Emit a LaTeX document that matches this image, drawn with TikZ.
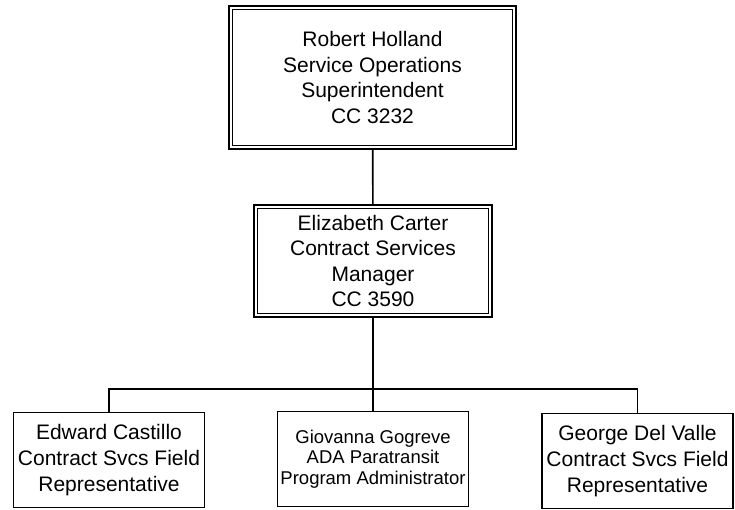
\documentclass[tikz,border=0pt]{standalone}
\usepackage{fontspec}
\setmainfont{Liberation Sans}
\begin{document}
\begin{tikzpicture}[x=1pt, y=-1pt]

% --- Define Styles ---
\tikzset{
    headbox/.style={draw, line width=1.9pt, inner sep=0pt,
        align=center, font=\fontsize{21}{25.5}\selectfont},
    innerline/.style={line width=1pt},
    staffbox/.style={draw, line width=1.5pt, inner sep=0pt, minimum width=191pt,
        minimum height=95pt, align=center},
    link/.style={line width=1.6pt}
}

\useasboundingbox (0,0) rectangle (735,509);

% ================= 1. SUPERINTENDENT =================
\node[headbox, minimum width=287pt, minimum height=143pt] (holland) at (372.5,77.5)
    {Robert Holland\\Service Operations\\Superintendent\\CC 3232};

% ================= 2. MANAGER =================
\node[headbox, minimum width=238pt, minimum height=112pt] (carter) at (373,261)
    {Elizabeth Carter\\Contract Services\\Manager\\CC 3590};

% inner frame of the double borders
\foreach \head in {holland, carter}
    \draw[innerline] ([shift={(4,4)}]\head.north west) rectangle ([shift={(-4,-4)}]\head.south east);

% ================= 3. STAFF =================
\node[staffbox, font=\fontsize{21}{26}\selectfont] (castillo) at (109,460)
    {Edward Castillo\\Contract Svcs Field\\Representative};
\node[staffbox, font=\fontsize{18.5}{20.5}\selectfont] (gogreve) at (373,459)
    {Giovanna Gogreve\\ADA Paratransit\\Program Administrator};
\node[staffbox, font=\fontsize{21}{26}\selectfont] (delvalle) at (637.5,461)
    {George Del Valle\\Contract Svcs Field\\Representative};

% connectors
\coordinate (bus) at (373,389);
\draw[link] (holland) -- (carter);
\draw[link] (carter) -- (bus);
\foreach \staff in {castillo, gogreve, delvalle}
    \draw[link] (bus) -| (\staff);

\end{tikzpicture}
\end{document}
